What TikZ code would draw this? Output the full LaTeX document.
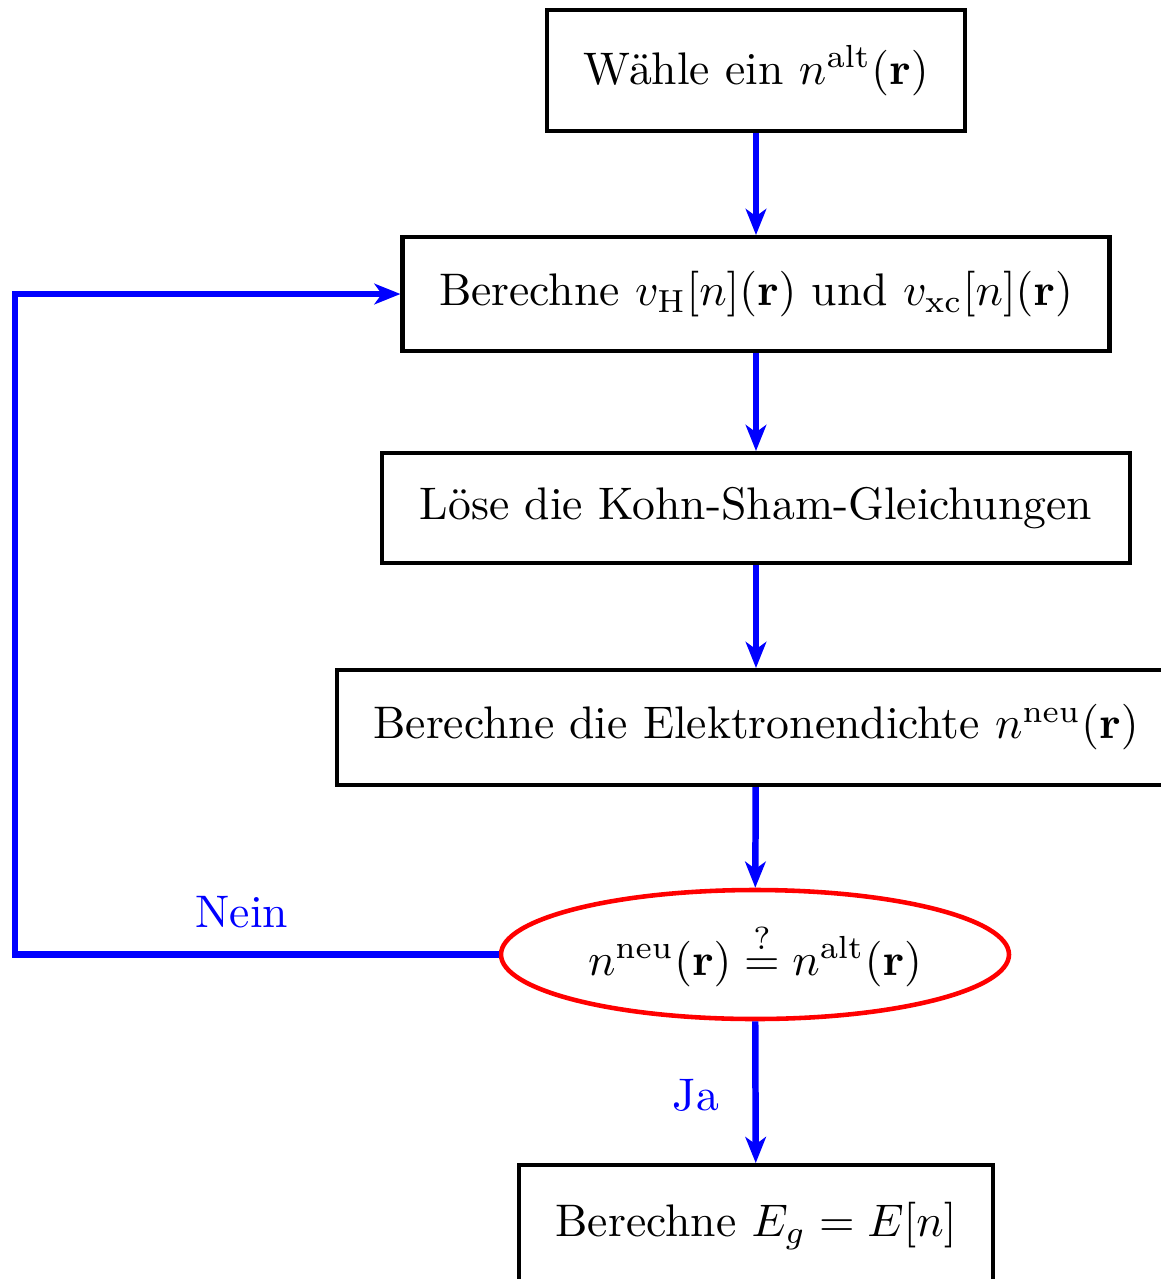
\documentclass[tikz,border=0pt]{standalone}
\usetikzlibrary{shapes.geometric,arrows.meta}
\begin{document}
\begin{tikzpicture}[x=0.219pt,y=-0.219pt,
  box/.style={draw=black,line width=0.88pt,inner sep=0pt},
  flow/.style={draw=blue,line width=1.42pt,-{Stealth[length=5.7pt,width=4.5pt,inset=1.6pt]}},
  lbl/.style={text=blue}]
\clip (0,0) rectangle (1161,1279);
\node[box,minimum width=91.54pt,minimum height=26.5pt] (b1) at (756,70.5) {Wähle ein $n^{\mathrm{alt}}(\mathbf{r})$};
\node[box,minimum width=154.83pt,minimum height=24.97pt] (b2) at (756,294) {Berechne $v_{\mathrm{H}}[n](\mathbf{r})$ und $v_{\mathrm{xc}}[n](\mathbf{r})$};
\node[box,minimum width=163.6pt,minimum height=24.09pt] (b3) at (756,508) {Löse die Kohn-Sham-Gleichungen};
\node[box,minimum width=183.5pt,minimum height=25.19pt] (b4) at (756,727.5) {Berechne die Elektronendichte $n^{\mathrm{neu}}(\mathbf{r})$};
\node[ellipse,draw=red,line width=1pt,inner sep=0pt,minimum width=111.25pt,minimum height=28.25pt] (e) at (755,954.5) {$n^{\mathrm{neu}}(\mathbf{r})\stackrel{?}{=}n^{\mathrm{alt}}(\mathbf{r})$};
\node[box,minimum width=103.8pt,minimum height=26.7pt] (b5) at (756,1226) {\raisebox{0.9pt}{Berechne $E_g=E[n]$}};
\coordinate (lc) at (15,954.5);
\draw[flow] (b1) -- (b2);
\draw[flow] (b2) -- (b3);
\draw[flow] (b3) -- (b4);
\draw[flow] (b4) -- (e);
\draw[flow] (e) -- (b5);
\draw[flow] (e.west) -- (lc) |- (b2.west);
\node[lbl] (nein) at (242,912) {Nein};
\node[lbl] (ja) at (696,1095) {Ja};
\end{tikzpicture}
\end{document}
